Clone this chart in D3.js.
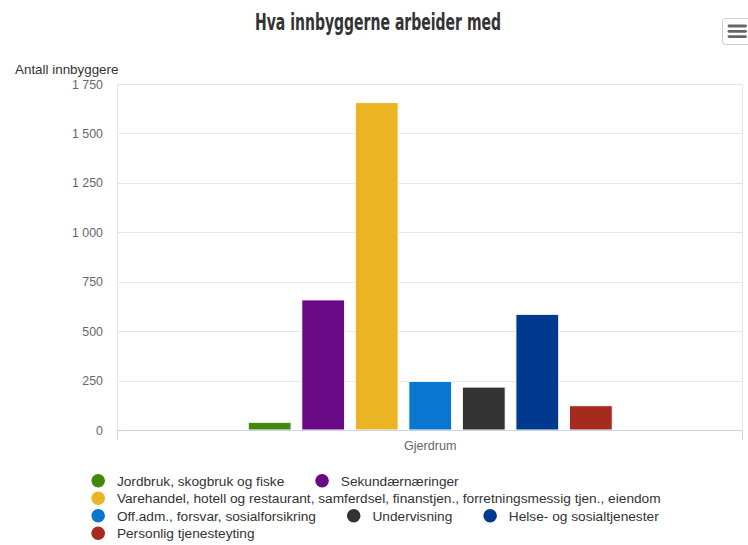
<!DOCTYPE html>
<html>
<head>
<meta charset="utf-8">
<script src="https://cdnjs.cloudflare.com/ajax/libs/d3/7.8.5/d3.min.js"></script>
<style>
body { margin: 0; background: #fff; }
svg { display: block; font-family: "Liberation Sans", Arial, Helvetica, sans-serif; }
</style>
</head>
<body>
<div id="chart"></div>
<script>
var width = 748;
var height = 545;

var chartTitle = 'Hva innbyggerne arbeider med';
var yAxisTitle = 'Antall innbyggere';

var categories = ['Gjerdrum'];

var seriesNames = [
    'Jordbruk, skogbruk og fiske',
    'Sekundærnæringer',
    'Varehandel, hotell og restaurant, samferdsel, finanstjen., forretningsmessig tjen., eiendom',
    'Off.adm., forsvar, sosialforsikring',
    'Undervisning',
    'Helse- og sosialtjenester',
    'Personlig tjenesteyting'
];
var seriesValues = [39, 658, 1656, 246, 217, 585, 123];
var seriesColors = ['#418a0c', '#690985', '#ebb422', '#0a76d0', '#333333', '#01398f', '#a52b1f'];

var yTicks = [0, 250, 500, 750, 1000, 1250, 1500, 1750];

var plot = {left: 118, right: 742.5, top: 84, bottom: 430};

var svg = d3.select('#chart').append('svg')
    .attr('width', width)
    .attr('height', height);

var nbLocale = d3.formatLocale({decimal: ',', thousands: ' ', grouping: [3], currency: ['', '']});
var tickFormat = nbLocale.format(',d');

var y = d3.scaleLinear()
    .domain([0, d3.max(yTicks)])
    .range([plot.bottom, plot.top]);

var x = d3.scaleBand()
    .domain(categories)
    .range([plot.left, plot.right]);

drawTitle();
drawGrid();
drawBars();
drawAxes();
drawLegend();
drawMenuButton();

function drawTitle(){
    svg.append('text')
        .attr('x', 378)
        .attr('y', 29.5)
        .attr('text-anchor', 'middle')
        .attr('textLength', 246)
        .attr('lengthAdjust', 'spacingAndGlyphs')
        .style('font-family', '"Liberation Sans Narrow", "DejaVu Sans Condensed", sans-serif')
        .style('font-weight', 'bold')
        .style('font-size', '23.5px')
        .style('fill', '#333333')
        .text(chartTitle);
}

function drawGrid(){
    //horizontal grid lines
    svg.append('g')
        .selectAll('line')
        .data(yTicks.slice(1))
        .enter()
        .append('line')
        .attr('x1', plot.left)
        .attr('x2', plot.right)
        .attr('y1', function(d){ return Math.round(y(d)) + 0.5; })
        .attr('y2', function(d){ return Math.round(y(d)) + 0.5; })
        .style('stroke', '#e6e6e6');

    //category boundary lines
    var edges = [x(categories[0]), x(categories[0]) + x.bandwidth()];
    svg.append('g')
        .selectAll('line')
        .data(edges)
        .enter()
        .append('line')
        .attr('x1', function(d){ return Math.round(d) - 0.5; })
        .attr('x2', function(d){ return Math.round(d) - 0.5; })
        .attr('y1', plot.top)
        .attr('y2', plot.bottom)
        .style('stroke', '#e6e6e6');
}

function drawBars(){
    var groupPadding = 0.2 * x.bandwidth();
    var xs = d3.scaleBand()
        .domain(d3.range(seriesNames.length))
        .range([x(categories[0]) + groupPadding, x(categories[0]) + x.bandwidth() - groupPadding])
        .paddingInner(0.2)
        .paddingOuter(0.1);

    svg.append('g')
        .selectAll('rect')
        .data(seriesValues)
        .enter()
        .append('rect')
        .attr('x', function(d, i){ return xs(i); })
        .attr('y', function(d){ return y(d); })
        .attr('width', xs.bandwidth())
        .attr('height', function(d){ return y(0) - y(d); })
        .style('fill', function(d, i){ return seriesColors[i]; })
        .style('stroke', '#ffffff')
        .style('stroke-width', 1);
}

function drawAxes(){
    //y labels
    svg.append('g')
        .selectAll('text')
        .data(yTicks)
        .enter()
        .append('text')
        .attr('x', 103)
        .attr('y', function(d){ return y(d) + 4.5; })
        .attr('text-anchor', 'end')
        .style('font-size', '12.4px')
        .style('fill', '#666666')
        .text(tickFormat);

    svg.append('text')
        .attr('x', 15)
        .attr('y', 73.5)
        .style('font-size', '13.4px')
        .style('fill', '#333333')
        .text(yAxisTitle);

    //x axis line + ticks
    svg.append('line')
        .attr('x1', plot.left)
        .attr('x2', plot.right)
        .attr('y1', plot.bottom + 0.5)
        .attr('y2', plot.bottom + 0.5)
        .style('stroke', '#ccd6eb');

    var edges = [x(categories[0]), x(categories[0]) + x.bandwidth()];
    svg.append('g')
        .selectAll('line')
        .data(edges)
        .enter()
        .append('line')
        .attr('x1', function(d){ return Math.round(d) - 0.5; })
        .attr('x2', function(d){ return Math.round(d) - 0.5; })
        .attr('y1', plot.bottom)
        .attr('y2', plot.bottom + 10)
        .style('stroke', '#ccd6eb');

    svg.append('g')
        .selectAll('text')
        .data(categories)
        .enter()
        .append('text')
        .attr('x', function(d){ return x(d) + x.bandwidth() / 2; })
        .attr('y', 449.5)
        .attr('text-anchor', 'middle')
        .style('font-size', '12.6px')
        .style('fill', '#666666')
        .text(function(d){ return d; });
}

function drawLegend(){
    var symbolR = 6.8;
    var textOffset = 25.5;
    var itemDistance = 31;
    var rowHeight = 17.5;
    var maxRowWidth = 640;

    var legend = svg.append('g');

    var items = legend.selectAll('g')
        .data(seriesNames)
        .enter()
        .append('g');

    items.append('circle')
        .attr('cx', symbolR)
        .attr('cy', 0)
        .attr('r', symbolR)
        .style('fill', function(d, i){ return seriesColors[i]; });

    items.append('text')
        .attr('x', textOffset)
        .attr('y', 4.8)
        .style('font-size', '13.7px')
        .style('fill', '#333333')
        .text(function(d){ return d; });

    //flow layout, wrap when a row gets too wide
    var row = 0, cx = 0, widest = 0;
    var pos = [];
    items.each(function(d, i){
        var w = textOffset + d3.select(this).select('text').node().getComputedTextLength();
        if(cx > 0 && cx + w > maxRowWidth){
            row++;
            cx = 0;
        }
        pos.push({x: cx, row: row});
        widest = Math.max(widest, cx + w);
        cx += w + itemDistance;
    });

    var left = 376 - widest / 2;
    items.attr('transform', function(d, i){
        return 'translate(' + (left + pos[i].x) + ',' + (480.7 + pos[i].row * rowHeight) + ')';
    });
}

function drawMenuButton(){
    var btn = svg.append('g');
    btn.append('rect')
        .attr('x', 722.5)
        .attr('y', 18.5)
        .attr('width', 30)
        .attr('height', 26)
        .attr('rx', 3)
        .style('fill', '#ffffff')
        .style('stroke', '#cccccc');
    btn.selectAll('line')
        .data([26, 31.3, 36.6])
        .enter()
        .append('line')
        .attr('x1', 729)
        .attr('x2', 745.5)
        .attr('y1', function(d){ return d; })
        .attr('y2', function(d){ return d; })
        .style('stroke', '#666666')
        .style('stroke-width', 2.8)
        .style('stroke-linecap', 'round');
}
</script>
</body>
</html>
